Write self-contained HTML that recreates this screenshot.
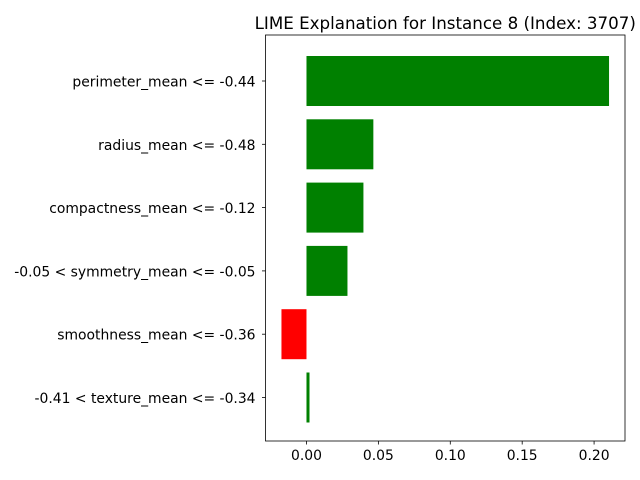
<!DOCTYPE html>
<html><head><meta charset="utf-8"><style>
body{margin:0;background:#fff;}
svg{display:block;font-family:"DejaVu Sans","Liberation Sans",sans-serif;}
</style></head><body>
<svg id="chart" width="640" height="480"></svg>
<script>
const categories=["perimeter_mean <= -0.44","radius_mean <= -0.48","compactness_mean <= -0.12","-0.05 < symmetry_mean <= -0.05","smoothness_mean <= -0.36","-0.41 < texture_mean <= -0.34"];
const values=[0.2104,0.0465,0.0396,0.0285,-0.0174,0.0021];
const xTicks=[0.00,0.05,0.10,0.15,0.20];
const xTickLabels=["0.00","0.05","0.10","0.15","0.20"];
const NS="http://www.w3.org/2000/svg";
const svg=document.getElementById('chart');
const L=265.5,R=625,T=35,B=441;
const xmin=-0.0285,xmax=0.2215;
const xs=v=>L+(v-xmin)/(xmax-xmin)*(R-L);
const yc=i=>81+i*63.3;
function el(t,a,p){const e=document.createElementNS(NS,t);for(const k in a)e.setAttribute(k,a[k]);(p||svg).appendChild(e);return e;}
const g=el('g',{});


values.forEach((v,i)=>{
 const x0=xs(Math.min(0,v)),x1=xs(Math.max(0,v));
 const r=el('rect',{x:x0,y:yc(i)-25,width:x1-x0,height:50,fill:v>=0?'green':'red'},g);
 
 
 el('line',{x1:L-3.5,x2:L,y1:yc(i),y2:yc(i),stroke:'#000','stroke-width':0.8});
 const t=el('text',{x:L-10,y:yc(i)+5.5,'text-anchor':'end','font-size':13.9},svg);
 t.textContent=categories[i];
 
 
});
xTicks.forEach((v,i)=>{
 el('line',{x1:xs(v),x2:xs(v),y1:B,y2:B+3.5,stroke:'#000','stroke-width':0.8});
 const t=el('text',{x:xs(v),y:B+19,'text-anchor':'middle','font-size':13.9});
 t.textContent=xTickLabels[i];
 
 
});
const fr=el('rect',{x:L,y:T,width:R-L,height:B-T,fill:'none',stroke:'#000','stroke-width':0.8});


const ti=el('text',{x:(L+R)/2,y:29,'text-anchor':'middle','font-size':16.7});
ti.textContent="LIME Explanation for Instance 8 (Index: 3707)";


</script>
</body></html>
